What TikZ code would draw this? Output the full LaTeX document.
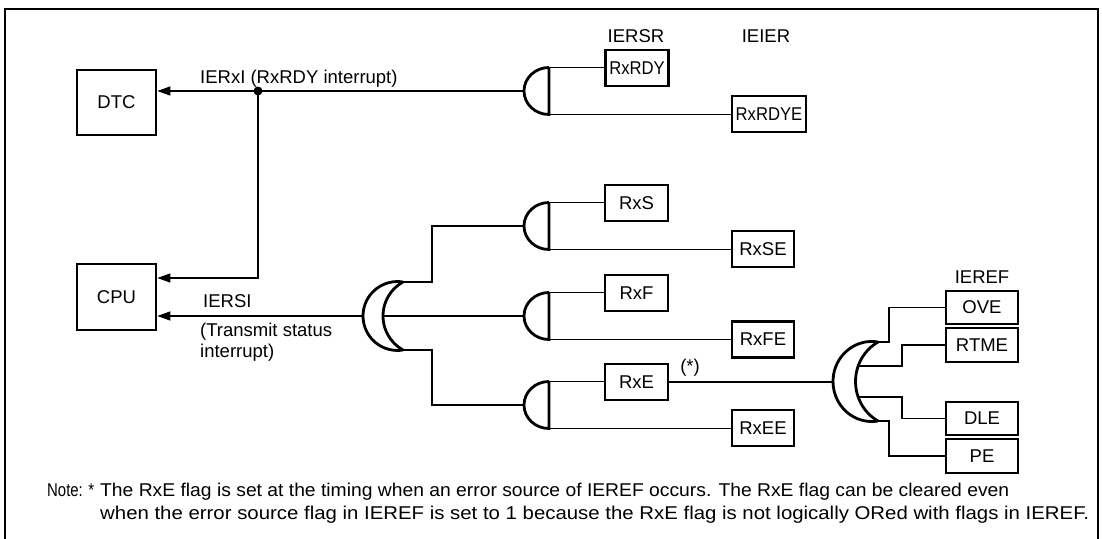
\documentclass[tikz,border=0pt]{standalone}
\usepackage{fontspec}
\setmainfont{Liberation Sans}
\usepackage{graphicx}
\usetikzlibrary{arrows.meta}
\newcommand{\figfont}{\fontsize{18.5}{21}\selectfont}

\begin{document}
\begin{tikzpicture}[x=1pt,y=1pt,font=\figfont,
  box/.style={draw,line width=2.6pt,inner sep=0pt,minimum height=36pt},
  wire/.style={line width=1.3pt},
  sig/.style={line width=1.3pt,-{Triangle[length=13pt,width=9pt]}},
  gate/.style={line width=2.8pt},
  lbl/.style={inner sep=0pt},
  pics/andgate/.style={code={
    \draw[gate] (0,23.5) -- (0,-23.5) arc[start angle=270,end angle=90,x radius=25,y radius=23.5];
    \coordinate (-in1) at (0,23.5);
    \coordinate (-in2) at (0,-23.5);
    \coordinate (-out) at (-25,0);
  }},
  pics/orgate/.style={code={
    \draw[gate] (0,34) arc[start angle=80.7,end angle=279.3,radius=34.45];
    \draw[gate] (0,34) arc[start angle=119.06,end angle=240.94,radius=38.9];
    \coordinate (-in1) at (0,34);
    \coordinate (-in2) at (-17.7,13.3);
    \coordinate (-in3) at (-17.7,-13.3);
    \coordinate (-in4) at (0,-34);
    \coordinate (-mid) at (-20,0);
    \coordinate (-out) at (-40,0);
  }}]
\useasboundingbox (0,0) rectangle (1102,-538);
\draw[line width=2.8pt] (5,-9) rectangle (1098,-560);

\node[box,minimum width=79pt,minimum height=65pt] (dtc) at (116.5,-102.5) {DTC};
\node[box,minimum width=79pt,minimum height=66pt] (cpu) at (116.5,-297) {CPU};

\node[lbl,anchor=base] (iersr) at (636,-42) {IERSR};
\node[lbl,anchor=base] (ieier) at (766,-42) {IEIER};
\node[lbl,anchor=base] (ieref) at (982,-283) {IEREF};

\node[box,minimum width=63pt] (rxrdy) at (637,-68) {\scalebox{0.9}[1]{RxRDY}};
\node[box,minimum width=74pt] (rxrdye) at (769,-114) {\scalebox{0.9}[1]{RxRDYE}};
\node[box,minimum width=63pt] (rxs) at (636.5,-203) {RxS};
\node[box,minimum width=62pt] (rxse) at (763,-249) {RxSE};
\node[box,minimum width=63pt] (rxf) at (636.5,-293) {RxF};
\node[box,minimum width=62pt] (rxfe) at (763,-339.5) {RxFE};
\node[box,minimum width=63pt] (rxe) at (636.5,-382) {RxE};
\node[box,minimum width=62pt] (rxee) at (763,-428) {RxEE};
\node[box,minimum width=72pt,minimum height=33pt] (ove) at (982,-307.5) {OVE};
\node[box,minimum width=72pt,minimum height=34pt] (rtme) at (982,-345) {RTME};
\node[box,minimum width=72pt,minimum height=33pt] (dle) at (982,-418.5) {DLE};
\node[box,minimum width=72pt,minimum height=34pt] (pe) at (982,-456) {PE};

\pic (g0) at (549,-91) {andgate};
\pic (g1) at (549,-226) {andgate};
\pic (g2) at (549,-316) {andgate};
\pic (g3) at (549,-405) {andgate};
\pic (or1) at (403,-316) {orgate};
\pic[xscale=1.125,yscale=1.162] (or2) at (878,-381.5) {orgate};

\draw[wire] (g0-in1) -- (g0-in1 -| rxrdy.west);
\draw[wire] (g0-in2) -- (g0-in2 -| rxrdye.west);
\draw[wire] (g1-in1) -- (g1-in1 -| rxs.west);
\draw[wire] (g1-in2) -- (g1-in2 -| rxse.west);
\draw[wire] (g2-in1) -- (g2-in1 -| rxf.west);
\draw[wire] (g2-in2) -- (g2-in2 -| rxfe.west);
\draw[wire] (g3-in1) -- (g3-in1 -| rxe.west);
\draw[wire] (g3-in2) -- (g3-in2 -| rxee.west);

\coordinate (tap) at (258,-91);
\draw[sig] (g0-out) -- (g0-out -| dtc.east);
\fill (tap) circle[radius=4.5pt];
\draw[sig] (tap) |- (cpu.east |- 0,-278);
\node[lbl,anchor=base west] (ierxi) at (200,-83) {IERxI (RxRDY interrupt)};

\draw[sig] (or1-out) -- (or1-out -| cpu.east);
\draw[wire] (or1-in1) -- ++(29,0) |- (g1-out);
\draw[wire] (or1-mid) -- (g2-out);
\draw[wire] (or1-in4) -- ++(29,0) |- (g3-out);
\node[lbl,anchor=base west] (iersi) at (203,-307) {IERSI};
\node[lbl,anchor=north west,align=left] (iersitxt) at (200,-323) {(Transmit status\\interrupt)};

\draw[wire] (rxe.east) -- (rxe.east -| or2-out);
\node[lbl,anchor=base] (star) at (690,-372) {(*)};
\draw[wire] (or2-in1) -- ++(11,0) |- (ove.west);
\draw[wire] (or2-in2) -- ++(44,0) |- (rtme.west);
\draw[wire] (or2-in3) -- ++(44,0) |- (dle.west);
\draw[wire] (or2-in4) -- ++(11,0) |- (pe.west);

\node[lbl,anchor=base west] (note) at (47,-496) {\resizebox{47pt}{\height}{Note: *}};
\node[lbl,anchor=base west] (note1) at (100,-496) {\resizebox{909pt}{\height}{The RxE flag is set at the timing when an error source of IEREF occurs. The RxE flag can be cleared even}};
\node[lbl,anchor=base west] (note2) at (100,-519) {\resizebox{989pt}{\height}{when the error source flag in IEREF is set to 1 because the RxE flag is not logically ORed with flags in IEREF.}};
\end{tikzpicture}
\end{document}
